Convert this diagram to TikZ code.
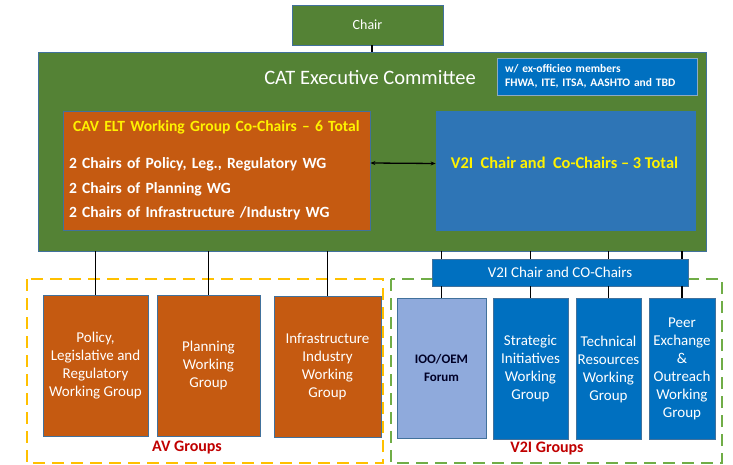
\documentclass[tikz,border=0pt]{standalone}
\usepackage{fontspec}
\setmainfont{Carlito}
\usetikzlibrary{arrows.meta}

\definecolor{catgreen}{HTML}{548235}
\definecolor{cavorange}{HTML}{C55A11}
\definecolor{v2iblue}{HTML}{2E75B6}
\definecolor{wgblue}{HTML}{0070C0}
\definecolor{forumblue}{HTML}{8FAADC}
\definecolor{edgeblue}{HTML}{41719C}
\definecolor{avyellow}{HTML}{FFC000}
\definecolor{v2igreen}{HTML}{70AD47}
\definecolor{grouplabel}{HTML}{C00000}

\tikzset{
	box/.style={draw=edgeblue, line width=0.8pt, inner sep=0pt},
	greenbox/.style={box, fill=catgreen},
	orangebox/.style={box, fill=cavorange},
	bluebox/.style={box, fill=wgblue},
	wgtext/.style={text=white, align=center, font=\fontsize{15}{18}\selectfont},
	orangewg/.style={orangebox, wgtext, minimum height=141pt},
	bluewg/.style={bluebox, wgtext, minimum height=141pt},
	conn/.style={draw=black, line width=1.8pt},
	frame/.style={line width=1.8pt, dash pattern=on 12pt off 7pt},
	grouptext/.style={text=grouplabel, font=\fontsize{16}{18}\selectfont\bfseries}
}

\begin{document}
\begin{tikzpicture}[x=1pt, y=-1pt]

	\useasboundingbox (0,0) rectangle (733,465);

	% frames round the two groups of working groups
	\draw[frame, draw=avyellow] (27,279) rectangle (383,463);
	\draw[frame, draw=v2igreen] (391,279) rectangle (722,463);

	\node[greenbox, minimum width=151pt, minimum height=40pt, text=white,
		font=\fontsize{14}{16}\selectfont] (chair) at (367.5,25) {Chair};
	\node[greenbox, minimum width=668pt, minimum height=199pt] (exec) at (372,151.5) {};
	\node[text=white, font=\fontsize{20.5}{24}\selectfont] (execname) at (370,77)
		{CAT Executive Committee};
	\node[bluebox, draw=edgeblue!60, minimum width=200pt, minimum height=37pt,
		text width=184pt, align=left, text=white,
		font=\fontsize{11.5}{14}\selectfont\bfseries] (exofficio) at (597,76.5)
		{w/ ex-officieo members\\FHWA, ITE, ITSA, AASHTO and TBD};

	\node[orangebox, minimum width=307pt, minimum height=119pt, text width=295pt,
		align=left, text=white, font=\fontsize{15.6}{24.5}\selectfont\bfseries] (cav)
		at (216.5,170.5)
		{\hspace{4pt}\textcolor{yellow}{CAV ELT Working Group Co-Chairs -- 6 Total}\\[13pt]
		2 Chairs of Policy, Leg., Regulatory WG\\
		2 Chairs of Planning WG\\
		2 Chairs of Infrastructure /Industry WG};
	\node[box, draw=none, fill=v2iblue, minimum width=260pt, minimum height=120pt] (v2i)
		at (566,171) {};
	\node[text=yellow, font=\fontsize{16.4}{18}\selectfont\bfseries] (v2iname) at (564.5,163)
		{V2I\ \ Chair and\ \ Co-Chairs -- 3 Total};

	\node[bluebox, minimum width=256pt, minimum height=27pt, text=white,
		font=\fontsize{15}{16}\selectfont] (v2ibar) at (560,272.5) {V2I Chair and CO-Chairs};

	% AV working groups
	\node[orangewg, minimum width=105pt] (policy) at (95.5,365.5)
		{Policy,\\Legislative and\\Regulatory\\Working Group};
	\node[orangewg, minimum width=103pt] (planning) at (208.5,365.5)
		{Planning\\Working\\Group};
	\node[orangewg, minimum width=107pt] (infra) at (327.5,366.5)
		{Infrastructure\\Industry\\Working\\Group};

	% V2I working groups
	\node[bluewg, fill=forumblue, text=black!85!blue, font=\fontsize{13}{18}\selectfont\bfseries,
		minimum width=89pt, minimum height=140pt] (forum) at (441.5,368) {IOO/OEM\\Forum};
	\node[bluewg, minimum width=75pt] (strategic) at (530.5,369)
		{Strategic\\Initiatives\\Working\\Group};
	\node[bluewg, minimum width=65pt] (technical) at (608.5,369)
		{Technical\\Resources\\Working\\Group};
	\node[bluewg, minimum width=66pt] (peer) at (682,369)
		{Peer\\Exchange\\\&\\Outreach\\Working\\Group};

	\node[grouptext] (avgroups) at (187,448) {AV Groups};
	\node[grouptext] (v2igroups) at (547,449) {V2I Groups};

	\draw[line width=1.8pt] (exec.north |- chair.south) -- (exec.north);
	\draw[line width=1.3pt, {Stealth[length=5pt,width=4pt]}-{Stealth[length=5pt,width=4pt]}]
		([yshift=7.5pt]cav.east) -- ([yshift=7.5pt]v2i.west);

	\foreach \wg in {policy, planning, infra}
		\draw[conn] (\wg.north |- exec.south) -- (\wg.north);
	\foreach \wg in {forum, strategic, technical, peer} {
		\draw[conn] (\wg.north |- exec.south) -- (\wg.north |- v2ibar.north);
		\draw[conn] (\wg.north |- v2ibar.south) -- (\wg.north);
	}

\end{tikzpicture}
\end{document}
